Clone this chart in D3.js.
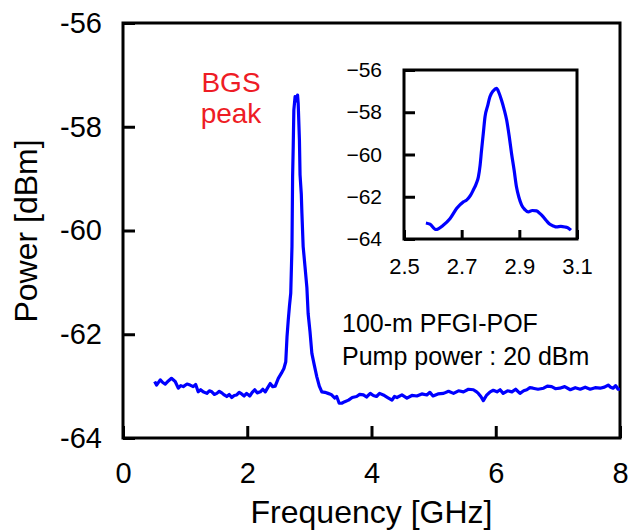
<!doctype html>
<html>
<head>
<meta charset="utf-8" />
<title>BGS spectrum</title>
<script src="https://cdn.jsdelivr.net/npm/d3@7"></script>
<style>
  html,body{margin:0;background:#fff}
  svg{display:block;font-family:"Liberation Sans", Arial, sans-serif}
  .frame{fill:none;stroke:#000;stroke-width:3}
  .trace{fill:none;stroke:#0000ff;stroke-width:3.2;stroke-linejoin:round}
  .axis path{display:none}
  .axis line{stroke:#000;stroke-width:3}
</style>
</head>
<body>
<svg id="chart" width="628" height="532"></svg>
<script>
// main spectrum, frequency [GHz]
const mainFreq = [0.51,0.54,0.60,0.64,0.68,0.73,0.78,0.84,0.89,0.93,0.97,1.03,1.08,1.13,1.17,1.21,1.25,1.29,1.35,1.39,1.43,1.47,1.51,1.55,1.59,1.63,1.67,1.71,1.75,1.79,1.83,1.87,1.91,1.95,1.99,2.04,2.08,2.12,2.16,2.21,2.25,2.29,2.33,2.37,2.41,2.45,2.50,2.55,2.59,2.62,2.64,2.66,2.68,2.70,2.72,2.73,2.74,2.75,2.77,2.79,2.81,2.82,2.84,2.85,2.87,2.88,2.90,2.93,2.96,2.98,3.01,3.04,3.08,3.12,3.16,3.20,3.25,3.30,3.35,3.41,3.44,3.48,3.52,3.57,3.63,3.69,3.76,3.81,3.87,3.92,3.98,4.03,4.08,4.13,4.19,4.26,4.33,4.37,4.41,4.49,4.57,4.65,4.73,4.81,4.89,4.94,4.99,5.07,5.16,5.24,5.32,5.40,5.48,5.56,5.64,5.68,5.72,5.76,5.80,5.85,5.91,5.96,6.02,6.07,6.12,6.19,6.26,6.32,6.39,6.45,6.50,6.55,6.60,6.68,6.77,6.83,6.90,6.96,7.03,7.11,7.20,7.28,7.36,7.44,7.52,7.60,7.68,7.75,7.81,7.85,7.89,7.93,7.97,8.00];
// main spectrum, power [dBm]
const mainPower = [-62.91,-62.98,-62.88,-62.93,-62.96,-62.90,-62.85,-62.91,-63.04,-62.99,-63.01,-62.96,-62.98,-63.01,-62.97,-63.11,-63.07,-63.11,-63.14,-63.09,-63.11,-63.16,-63.14,-63.10,-63.13,-63.17,-63.20,-63.16,-63.22,-63.18,-63.17,-63.12,-63.15,-63.19,-63.14,-63.19,-63.12,-63.07,-63.13,-63.11,-63.06,-63.11,-63.03,-62.95,-63.01,-63.00,-62.85,-62.75,-62.66,-62.53,-62.05,-61.73,-61.45,-61.21,-60.31,-58.96,-58.38,-57.68,-57.42,-57.50,-57.39,-57.55,-58.26,-58.93,-59.30,-59.67,-60.31,-60.70,-61.10,-61.60,-61.95,-62.37,-62.60,-62.82,-63.00,-63.11,-63.12,-63.14,-63.16,-63.23,-63.20,-63.33,-63.33,-63.30,-63.27,-63.22,-63.20,-63.16,-63.17,-63.21,-63.14,-63.18,-63.20,-63.14,-63.17,-63.22,-63.27,-63.20,-63.22,-63.17,-63.23,-63.18,-63.19,-63.15,-63.17,-63.12,-63.19,-63.15,-63.14,-63.10,-63.14,-63.09,-63.11,-63.06,-63.07,-63.10,-63.14,-63.20,-63.28,-63.18,-63.11,-63.08,-63.11,-63.07,-63.14,-63.09,-63.11,-63.06,-63.14,-63.09,-63.07,-63.03,-63.04,-63.06,-63.04,-63.00,-63.01,-63.05,-63.04,-63.01,-63.07,-63.03,-63.06,-63.02,-63.06,-63.03,-63.04,-63.02,-62.98,-63.02,-63.04,-62.99,-63.06,-63.06];

// inset zoom of the peak
const insetFreq = [2.576,2.590,2.611,2.636,2.660,2.683,2.706,2.717,2.730,2.740,2.750,2.758,2.764,2.769,2.775,2.781,2.790,2.798,2.810,2.821,2.830,2.838,2.847,2.856,2.865,2.873,2.882,2.890,2.899,2.908,2.920,2.931,2.945,2.960,2.972,2.983,2.995,3.006,3.018,3.029,3.044,3.058,3.070,3.079];
const insetPower = [-63.24,-63.30,-63.55,-63.35,-63.03,-62.55,-62.24,-62.16,-61.95,-61.69,-61.40,-61.06,-60.50,-59.79,-59.00,-58.21,-57.70,-57.27,-56.98,-56.87,-57.10,-57.42,-57.85,-58.37,-59.15,-59.95,-60.75,-61.53,-62.05,-62.40,-62.62,-62.72,-62.65,-62.67,-62.80,-62.95,-63.15,-63.30,-63.38,-63.43,-63.40,-63.43,-63.48,-63.58];

const mainXTicks = [0, 2, 4, 6, 8];
const mainYTicks = [-64, -62, -60, -58, -56];
const insetXTicks = [2.5, 2.7, 2.9, 3.1];
const insetYTicks = [-64, -62, -60, -58, -56];

const notes = ["100-m PFGI-POF", "Pump power : 20 dBm"];
const peakLabel = ["BGS", "peak"];

const svg = d3.select('#chart');

/* ---------- main plot ---------- */
const m = {left:123, top:23, right:620, bottom:438};
const x = d3.scaleLinear().domain([0, 8]).range([m.left, m.right]);
const y = d3.scaleLinear().domain([-64, -56]).range([m.bottom, m.top]);

const xAxis = svg.append('g').attr('class','axis')
  .attr('transform',`translate(0,${m.bottom})`)
  .call(d3.axisBottom(x).tickValues(mainXTicks).tickSize(-12).tickPadding(24).tickFormat(d => String(d)));
xAxis.selectAll('text').attr('font-size',29).attr('fill','#000');

// plain hyphen on the main axis, as in the original
const yAxis = svg.append('g').attr('class','axis')
  .attr('transform',`translate(${m.left},0)`)
  .call(d3.axisLeft(y).tickValues(mainYTicks).tickSize(-12).tickPadding(21).tickFormat(d => String(d)));
yAxis.selectAll('text').attr('font-size',29).attr('fill','#000');

svg.append('rect').attr('class','frame')
  .attr('x',m.left).attr('y',m.top)
  .attr('width',m.right-m.left).attr('height',m.bottom-m.top);

const line = d3.line().x(d => x(d[0])).y(d => y(d[1]));
svg.append('path').attr('class','trace')
  .datum(mainFreq.map((f,i) => [f, mainPower[i]]))
  .attr('d', line);

svg.append('text').attr('x',(m.left+m.right)/2).attr('y',523)
  .attr('text-anchor','middle').attr('font-size',32).text('Frequency [GHz]');
svg.append('text').attr('transform','translate(37,231) rotate(-90)')
  .attr('text-anchor','middle').attr('font-size',32).text('Power [dBm]');

svg.append('g').selectAll('text').data(peakLabel).join('text')
  .attr('x',231).attr('y',(d,i) => 92 + i*31)
  .attr('text-anchor','middle').attr('font-size',28).attr('fill','#ee1c25')
  .text(d => d);

svg.append('g').selectAll('text').data(notes).join('text')
  .attr('x',342).attr('y',(d,i) => 332 + i*33)
  .attr('font-size',25).attr('fill','#000')
  .text(d => d);

/* ---------- inset ---------- */
const n = {left:404, top:70, right:577, bottom:239};
const ix = d3.scaleLinear().domain([2.5, 3.1]).range([n.left, n.right]);
const iy = d3.scaleLinear().domain([-64, -56]).range([n.bottom, n.top]);

const ixAxis = svg.append('g').attr('class','axis')
  .attr('transform',`translate(0,${n.bottom})`)
  .call(d3.axisBottom(ix).tickValues(insetXTicks).tickSize(-9).tickPadding(19).tickFormat(d3.format('.1f')));
ixAxis.selectAll('text').attr('font-size',22).attr('fill','#000');

const iyAxis = svg.append('g').attr('class','axis')
  .attr('transform',`translate(${n.left},0)`)
  .call(d3.axisLeft(iy).tickValues(insetYTicks).tickSize(-11).tickPadding(22).tickFormat(d => '\u2212' + Math.abs(d)));
iyAxis.selectAll('text').attr('font-size',21).attr('fill','#000');

svg.append('rect').attr('class','frame')
  .attr('x',n.left).attr('y',n.top)
  .attr('width',n.right-n.left).attr('height',n.bottom-n.top);

const iline = d3.line().curve(d3.curveMonotoneX).x(d => ix(d[0])).y(d => iy(d[1]));
svg.append('path').attr('class','trace')
  .datum(insetFreq.map((f,i) => [f, insetPower[i]]))
  .attr('d', iline);
</script>
</body>
</html>
